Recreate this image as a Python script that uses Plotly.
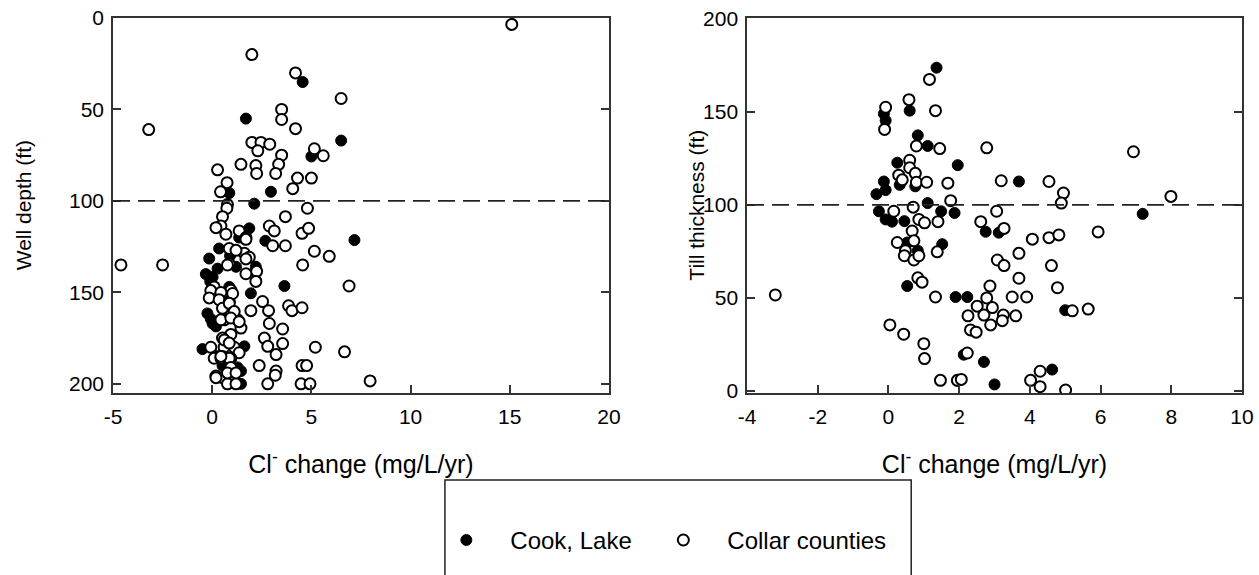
import plotly.graph_objects as go

# ---------------- Left panel: Cl- change vs well depth ----------------
cook_depth_x = [4.56, 1.7, 6.5, 5.0, 0.86, 2.96, 2.12, 1.87, 2.68, 7.17, 0.35, -0.15, 1.2, -0.32,
                0.02, 0.27, 3.64, 1.95, 0.86, 2.2, -0.24, -0.07, 0.02, 0.19, -0.49, 1.62, 0.52,
                1.28, 0.86, 1.45, 1.45, 1.36, 0.9, -0.1]
cook_depth_y = [35, 55, 67, 75.7, 95.7, 95, 101.5, 115, 121.8, 121.4, 126, 131.5, 136, 140,
                141.6, 137, 146.5, 150.5, 147, 136, 161.5, 164.5, 167, 168.6, 181, 179.5, 190,
                191, 194, 193, 200, 120, 130, 144]

collar_depth_x = [-4.6, -2.5, -3.2, 15.1, 2.0, 4.2, 6.5, 3.5, 3.5, 4.2, 2.0, 2.46, 2.3, 2.9, 3.5,
                  5.15, 5.6, 3.35, 1.45, 2.2, 2.24, 3.2, 4.3, 5.0, 0.27, 0.75, 4.06, 0.42, 0.77,
                  4.8, 0.74, 0.52, 0.44, 0.19, 0.69, 1.36, 1.7, 2.88, 3.13, 3.69, 3.05, 3.69,
                  4.53, 4.86, 5.15, 5.9, 4.56, 6.9, 1.03, 1.62, 1.87, 0.86, 2.24, 1.7, 2.2, 0.1,
                  0.94, -0.07, 0.44, -0.15, 0.35, 0.86, 2.54, 1.95, 2.84, 0.94, 3.85, 4.02, 4.53,
                  0.61, 1.28, 1.45, 2.88, 0.94, 0.52, 3.55, 2.63, 2.8, 3.55, -0.07, 0.19, 0.6,
                  0.52, 1.11, 1.36, 0.94, 3.22, 5.2, 6.67, 2.37, 3.22, 3.18, 4.53, 4.76, 0.19,
                  0.52, 0.77, 1.2, 2.8, 4.48, 4.93, 7.96, 0.86, 1.2, 1.7, 1.7, 0.77, 1.03, 0.52,
                  0.86, 0.44, 1.11, 0.94, 1.36, 0.61, 0.86, 0.1, 0.44, 0.86, 0.94, 0.77, 1.2,
                  0.19, 0.44]
collar_depth_y = [135, 135, 61, 3.5, 20, 30, 44, 50, 55.5, 60.5, 68, 68, 72.6, 69, 75, 71.5,
                  75.3, 80, 80, 80.7, 85, 85, 87.5, 87.5, 83, 90, 93.3, 95, 102, 104, 104, 108.6,
                  113.7, 114.6, 118.2, 116.4, 120, 113.7, 116.4, 108.6, 124.5, 124.5, 117.7,
                  115, 127.5, 130.3, 135, 146.5, 127, 128.6, 130.8, 134.4, 138.5, 139.8, 144,
                  147, 148.8, 149, 150, 153, 154, 155, 155, 160, 160, 159.6, 157.3, 160, 158.4,
                  165, 165, 169.5, 167, 173, 175, 170, 175, 179.5, 178, 180, 185, 180, 185, 180,
                  183, 186, 184, 180, 182.5, 190, 193, 195.3, 190, 190, 195.7, 196.6, 200, 200,
                  200, 200, 200, 198.4, 126, 127, 121, 131.7, 135, 150.6, 158.7, 156, 165,
                  160.5, 164, 166, 176, 177.7, 186, 186, 186, 191, 194, 194, 196.6, 185]

# ---------------- Right panel: Cl- change vs till thickness ----------------
cook_till_x = [1.36, 0.6, -0.13, -0.08, 0.83, 1.11, 1.96, 0.25, -0.13, -0.08, -0.34, 0.32, 0.76,
               3.69, 1.11, -0.27, 1.49, 1.87, -0.08, 0.1, 0.45, 2.75, 3.12, 0.53, 1.52, 0.83,
               0.53, 1.9, 2.23, 5.0, 2.13, 2.7, 3.0, 4.63, 7.19, 1.95]
cook_till_y = [173.8, 150.7, 149, 145.4, 137.4, 131.7, 121.4, 122.7, 112.6, 108, 105.8, 110.8,
               110, 112.6, 101, 96.6, 96.6, 95.7, 92.2, 91, 91.3, 85.6, 85.1, 79.8, 78.9, 75.4,
               56.4, 50.5, 50.5, 43.4, 19.5, 15.6, 3.5, 11.5, 95.2, 5.5]

collar_till_x = [1.16, 0.58, 1.33, -0.08, -0.11, 0.79, 1.45, 2.78, 0.6, 0.6, 0.76, 0.29, 0.39,
                 0.79, 1.08, 1.68, 3.19, 4.54, 4.95, 4.89, 1.76, 0.7, 0.15, 3.06, 0.86, 1.02,
                 1.4, 2.61, 3.27, 0.67, 4.07, 4.54, 4.82, 0.25, 0.72, 3.69, 3.08, 3.27, 4.61,
                 0.48, 0.45, 0.72, 0.86, 1.38, 3.69, 4.78, 0.83, 0.95, 1.33, 2.87, 2.78, 3.5,
                 3.91, 2.51, 2.94, 2.25, 2.7, 3.25, 3.6, 3.22, 2.89, 2.32, 2.48, 5.2, 5.65,
                 0.04, 0.43, 1.0, 1.02, 2.23, 1.47, 1.95, 2.06, 4.29, 4.02, 4.29, 5.01, 6.93,
                 7.99, 5.93, -3.2]
collar_till_y = [167.5, 156.6, 150.7, 152.5, 140.6, 131.7, 130.3, 130.7, 124, 120, 117, 116,
                 113.5, 112.2, 112.2, 111.7, 113, 112.6, 106.4, 101, 102.3, 98.8, 96.6, 96.6,
                 92.2, 90.4, 91, 91, 87.4, 86, 81.6, 82.4, 83.9, 79.8, 80.7, 74, 70.4, 67.4,
                 67.4, 75.4, 72.7, 70.4, 72.7, 74.8, 60.6, 55.5, 60.8, 58.5, 50.5, 56.4, 50,
                 50.5, 50.5, 45.6, 44.8, 40.4, 40.8, 40.8, 40.4, 37.8, 35.5, 32.8, 31.6, 43.1,
                 44, 35.5, 30.5, 25.4, 17.4, 20.4, 5.7, 5.7, 6.2, 10.6, 5.7, 2.3, 0.5, 128.6,
                 104.6, 85.5, 51.6]

threshold = 100
left_xticks = [-5, 0, 5, 10, 15, 20]
left_xticktext = ["-5", "0", "5", "10", "15", "20"]
left_yticks = [0, 50, 100, 150, 200]
right_xticks = [-4, -2, 0, 2, 4, 6, 8, 10]
right_xticktext = ["-4", "-2", "0", "2", "4", "6", "8", "10"]
right_yticks = [0, 50, 100, 150, 200]
x_title = "Cl<sup>-</sup> change (mg/L/yr)"
left_y_title = "Well depth (ft)"
right_y_title = "Till thickness (ft)"
font_family = "Liberation Sans, Arial, sans-serif"

filled = dict(color="black", size=11, line=dict(color="black", width=1))
hollow = dict(color="white", size=11, line=dict(color="black", width=2))

fig = go.Figure()
fig.add_trace(go.Scatter(x=cook_depth_x, y=cook_depth_y, mode="markers", marker=filled,
                         name="Cook, Lake", xaxis="x", yaxis="y", legendgroup="c",
                         legendwidth=124))
fig.add_trace(go.Scatter(x=collar_depth_x, y=collar_depth_y, mode="markers", marker=hollow,
                         name="Collar counties", xaxis="x", yaxis="y", legendgroup="o",
                         legendwidth=175))
fig.add_trace(go.Scatter(x=cook_till_x, y=cook_till_y, mode="markers", marker=filled,
                         name="Cook, Lake", xaxis="x2", yaxis="y2", legendgroup="c",
                         showlegend=False))
fig.add_trace(go.Scatter(x=collar_till_x, y=collar_till_y, mode="markers", marker=hollow,
                         name="Collar counties", xaxis="x2", yaxis="y2", legendgroup="o",
                         showlegend=False))

axis_common = dict(showgrid=False, zeroline=False, showline=True, linecolor="#333333",
                   linewidth=1.5, ticks="inside", ticklen=8, tickwidth=1.5, tickcolor="#333333",
                   tickfont=dict(size=21, color="black"), automargin=False,
                   ticklabeloverflow="allow")

fig.update_layout(
    width=1259, height=575,
    margin=dict(l=113, r=17, t=18, b=178),
    paper_bgcolor="white", plot_bgcolor="white",
    font=dict(family=font_family, color="black", size=21),
    xaxis=dict(domain=[0, 0.4393], range=[-5, 20], tickvals=left_xticks,
               ticktext=left_xticktext, mirror=True, ticklabelstandoff=4,
               title=dict(text=x_title, standoff=29, font=dict(size=25)), **axis_common),
    yaxis=dict(range=[205, 0], tickvals=left_yticks, mirror="ticks", ticklabelstandoff=3,
               **axis_common),
    xaxis2=dict(domain=[0.5616, 1], range=[-4, 10], tickvals=right_xticks,
                ticktext=right_xticktext, mirror=True, anchor="y2", ticklabelstandoff=4,
                title=dict(text=x_title, standoff=29, font=dict(size=25)), **axis_common),
    yaxis2=dict(range=[-1.1, 200.5], tickvals=right_yticks, mirror="ticks", anchor="x2",
                ticklabelstandoff=3, **axis_common),
    showlegend=True,
    legend=dict(orientation="h", x=0.274, xanchor="left", y=-0.393, yanchor="middle",
                font=dict(size=24), bgcolor="rgba(0,0,0,0)", itemwidth=78,
                traceorder="normal"),
    annotations=[
        dict(text=left_y_title, xref="paper", yref="paper", x=-0.079, y=0.5,
             xanchor="center", yanchor="middle", textangle=-90, showarrow=False,
             font=dict(size=21)),
        dict(text=right_y_title, xref="paper", yref="paper", x=0.5165, y=0.5,
             xanchor="center", yanchor="middle", textangle=-90, showarrow=False,
             font=dict(size=21)),
    ],
    shapes=[
        dict(type="line", xref="x domain", yref="y", x0=0, x1=1, y0=threshold, y1=threshold,
             line=dict(color="#222222", width=1.8, dash="17px,8px")),
        dict(type="line", xref="x2 domain", yref="y2", x0=0, x1=1, y0=threshold, y1=threshold,
             line=dict(color="#222222", width=1.8, dash="17px,8px")),
        dict(type="rect", xref="paper", yref="paper", x0=0.294, x1=0.707, y0=-0.232, y1=-0.52,
             line=dict(color="#222222", width=1.5)),
    ],
)

# remove the browser's default 8px body margin so the 1259x575 figure fills the window exactly
fig.write_html("out.html", config={"displayModeBar": False},
               post_script="document.body.style.margin='0';document.body.style.overflow='hidden';")
